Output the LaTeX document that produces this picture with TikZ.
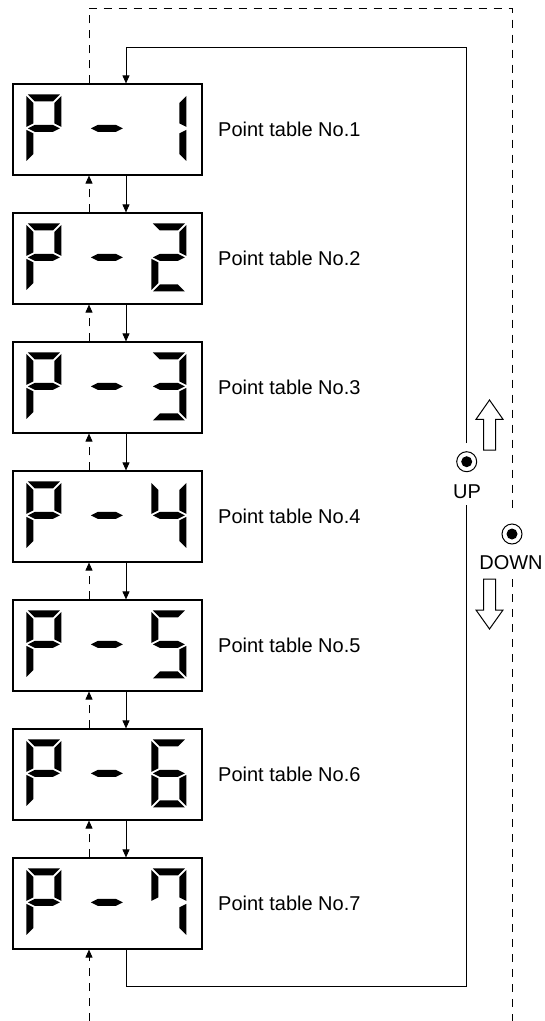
\documentclass[tikz,border=0pt]{standalone}
\usepackage{fontspec}
\setmainfont{Liberation Sans}
\usetikzlibrary{arrows.meta,calc}

\begin{document}
\begin{tikzpicture}[
x=1pt,
y=-1pt,
>={Triangle[width=7pt,length=8pt]},
font=\fontsize{20}{24}\selectfont,
display/.style={
rectangle,
draw=black,
line width=1.2pt,
minimum width=189pt,
minimum height=91pt,
inner sep=0pt
},
caption/.style={
anchor=west,
inner sep=0pt
},
button/.style={
circle,
draw=black,
line width=1pt,
minimum size=20pt,
inner sep=0pt,
path picture={\fill[black] (path picture bounding box.center) circle (5.5pt);}
},
btnlabel/.style={
inner sep=0pt
},
wire/.style={
line width=0.9pt,
draw=black
},
arrow/.style={
->,
line width=0.9pt,
draw=black
},
dashedwire/.style={
line width=0.9pt,
draw=black,
dash pattern=on 8pt off 7pt
},
dashedarrow/.style={
->,
line width=0.9pt,
draw=black,
dash pattern=on 8pt off 7pt
},
hollow/.style={
draw=black,
line width=1pt,
fill=white,
line join=miter
},
segA/.pic={\fill (1.5,0) -- (33.5,0) -- (26.5,7) -- (8.5,7) -- cycle;},
segB/.pic={\fill (35,1.5) -- (28,8.5) -- (28,29) -- (35,32.5) -- cycle;},
segC/.pic={\fill (35,35.5) -- (28,39) -- (28,59.5) -- (35,66.5) -- cycle;},
segD/.pic={\fill (1.5,68) -- (33.5,68) -- (26.5,61) -- (8.5,61) -- cycle;},
segE/.pic={\fill (0,35.5) -- (7,39) -- (7,59.5) -- (0,66.5) -- cycle;},
segF/.pic={\fill (0,1.5) -- (7,8.5) -- (7,29) -- (0,32.5) -- cycle;},
segG/.pic={\fill (1.5,34) -- (8.5,30.5) -- (26.5,30.5) -- (33.5,34) -- (26.5,37.5) -- (8.5,37.5) -- cycle;},
digP/.pic={\pic{segA}; \pic{segB}; \pic{segF}; \pic{segG}; \pic{segE};},
digOne/.pic={\pic{segB}; \pic{segC};},
digTwo/.pic={\pic{segA}; \pic{segB}; \pic{segG}; \pic{segE}; \pic{segD};},
digThree/.pic={\pic{segA}; \pic{segB}; \pic{segG}; \pic{segC}; \pic{segD};},
digFour/.pic={\pic{segF}; \pic{segG}; \pic{segB}; \pic{segC};},
digFive/.pic={\pic{segA}; \pic{segF}; \pic{segG}; \pic{segC}; \pic{segD};},
digSix/.pic={\pic{segA}; \pic{segF}; \pic{segG}; \pic{segE}; \pic{segC}; \pic{segD};},
digSeven/.pic={\pic{segA}; \pic{segF}; \pic{segB}; \pic{segC};}
]

\useasboundingbox (0,0) rectangle (544,1021);

\coordinate (sx) at (126,0);
\coordinate (dx) at (89,0);

% displays
\node[display] (p1) at (107.5,129.5) {};
\node[display] (p2) at (107.5,258.5) {};
\node[display] (p3) at (107.5,387.5) {};
\node[display] (p4) at (107.5,516.5) {};
\node[display] (p5) at (107.5,645.5) {};
\node[display] (p6) at (107.5,774.5) {};
\node[display] (p7) at (107.5,903.5) {};

\pic at ($(p1.north west)+(14,11)$) {digP};
\pic at ($(p1.north west)+(77,11)$) {segG};
\pic at ($(p1.north west)+(139,11)$) {digOne};

\pic at ($(p2.north west)+(14,11)$) {digP};
\pic at ($(p2.north west)+(77,11)$) {segG};
\pic at ($(p2.north west)+(139,11)$) {digTwo};

\pic at ($(p3.north west)+(14,11)$) {digP};
\pic at ($(p3.north west)+(77,11)$) {segG};
\pic at ($(p3.north west)+(139,11)$) {digThree};

\pic at ($(p4.north west)+(14,11)$) {digP};
\pic at ($(p4.north west)+(77,11)$) {segG};
\pic at ($(p4.north west)+(139,11)$) {digFour};

\pic at ($(p5.north west)+(14,11)$) {digP};
\pic at ($(p5.north west)+(77,11)$) {segG};
\pic at ($(p5.north west)+(139,11)$) {digFive};

\pic at ($(p6.north west)+(14,11)$) {digP};
\pic at ($(p6.north west)+(77,11)$) {segG};
\pic at ($(p6.north west)+(139,11)$) {digSix};

\pic at ($(p7.north west)+(14,11)$) {digP};
\pic at ($(p7.north west)+(77,11)$) {segG};
\pic at ($(p7.north west)+(139,11)$) {digSeven};

% captions
\node[caption] (t1) at (218,129.5) {Point table No.1};
\node[caption] (t2) at (218,258.5) {Point table No.2};
\node[caption] (t3) at (218,387.5) {Point table No.3};
\node[caption] (t4) at (218,516.5) {Point table No.4};
\node[caption] (t5) at (218,645.5) {Point table No.5};
\node[caption] (t6) at (218,774.5) {Point table No.6};
\node[caption] (t7) at (218,903.5) {Point table No.7};

% buttons
\node[button] (upbtn) at (466.7,461.7) {};
\node[btnlabel] (uptext) at (467,492) {UP};
\node[button] (dnbtn) at (512,534) {};
\node[btnlabel] (dntext) at (511,563) {DOWN};

\draw[hollow] (489.5,400) -- (503,419.3) -- (495.5,419.3) -- (495.5,450)
  -- (483.5,450) -- (483.5,419.3) -- (476,419.3) -- cycle;
\draw[hollow] (489.5,629) -- (503,610) -- (495.5,610) -- (495.5,579)
  -- (483.5,579) -- (483.5,610) -- (476,610) -- cycle;

% UP loop
\coordinate (loopbr) at (466.7,986);
\coordinate (looptr) at (466.7,47);
\coordinate (upgapA) at (466.7,443);
\coordinate (upgapB) at (466.7,505);

\draw[arrow] (p1.south -| sx) -- (p2.north -| sx);
\draw[arrow] (p2.south -| sx) -- (p3.north -| sx);
\draw[arrow] (p3.south -| sx) -- (p4.north -| sx);
\draw[arrow] (p4.south -| sx) -- (p5.north -| sx);
\draw[arrow] (p5.south -| sx) -- (p6.north -| sx);
\draw[arrow] (p6.south -| sx) -- (p7.north -| sx);
\draw[wire] (p7.south -| sx) |- (loopbr) -- (upgapB);
\draw[arrow] (upgapA) -- (looptr) -| (p1.north -| sx);

% DOWN loop
\coordinate (dashtr) at (512,8);
\coordinate (dngapA) at (512,513);
\coordinate (dngapB) at (512,579);
\coordinate (dashbr) at (512,1021);
\coordinate (dashbl) at (89,1021);

\draw[dashedarrow] (p2.north -| dx) -- (p1.south -| dx);
\draw[dashedarrow] (p3.north -| dx) -- (p2.south -| dx);
\draw[dashedarrow] (p4.north -| dx) -- (p3.south -| dx);
\draw[dashedarrow] (p5.north -| dx) -- (p4.south -| dx);
\draw[dashedarrow] (p6.north -| dx) -- (p5.south -| dx);
\draw[dashedarrow] (p7.north -| dx) -- (p6.south -| dx);
\draw[dashedarrow] (dashbl) -- (p7.south -| dx);
\draw[dashedwire] (p1.north -| dx) |- (dashtr) -- (dngapA);
\draw[dashedwire] (dngapB) -- (dashbr);

\end{tikzpicture}
\end{document}
